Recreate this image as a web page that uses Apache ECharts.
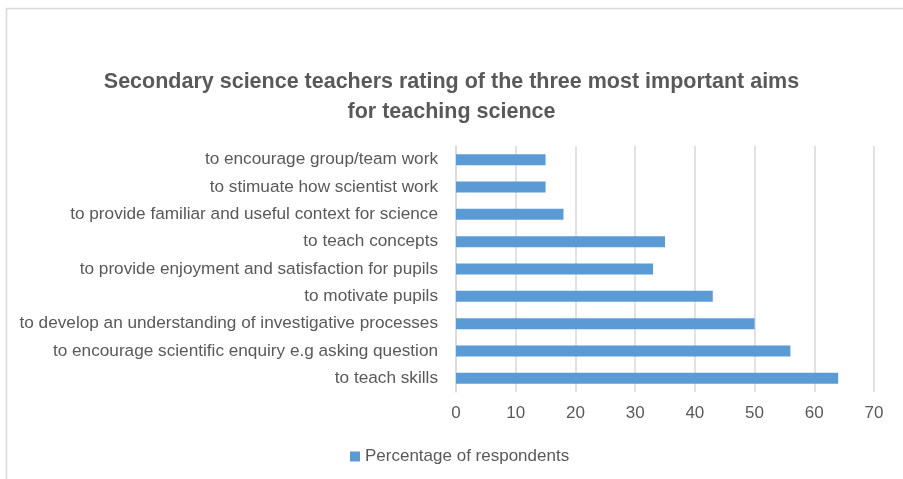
<!DOCTYPE html>
<html>
<head>
<meta charset="utf-8">
<script src="https://cdn.jsdelivr.net/npm/echarts@6/dist/echarts.min.js"></script>
<style>
html, body { margin: 0; padding: 0; background: #fff; }
#chart { width: 903px; height: 479px; }
</style>
</head>
<body>
<div id="chart"></div>
<script>
// categories listed bottom to top, as the value axis reads them
var aims = [
    'to teach skills',
    'to encourage scientific enquiry e.g asking question',
    'to develop an understanding of investigative processes',
    'to motivate pupils',
    'to provide enjoyment and satisfaction for pupils',
    'to teach concepts',
    'to provide familiar and useful context for science',
    'to stimuate how scientist work',
    'to encourage group/team work'
];
var respondents = [64, 56, 50, 43, 33, 35, 18, 15, 15];
var seriesName = 'Percentage of respondents';

var font = 'Liberation Sans, Arial, sans-serif';
var chart = echarts.init(document.getElementById('chart'), null, { renderer: 'canvas' });

var option = {
    animation: false,
    textStyle: { fontFamily: font, color: '#595959' },
    graphic: [{
        type: 'rect',
        shape: { x: 6.5, y: 8.5, width: 910, height: 480 },
        style: { fill: 'none', stroke: '#d9d9d9', lineWidth: 1.5 },
        silent: true
    }],
    title: {
        text: 'Secondary science teachers rating of the three most important aims\nfor teaching science',
        left: 'center',
        top: 62,
        textStyle: {
            fontFamily: font,
            fontSize: 21.5,
            fontWeight: 'bold',
            color: '#595959',
            lineHeight: 30
        }
    },
    legend: {
        bottom: 9,
        left: 345,
        itemWidth: 10,
        itemHeight: 10,
        itemGap: 6,
        icon: 'rect',
        textStyle: { fontSize: 17, color: '#595959', fontFamily: font },
        data: [seriesName]
    },
    grid: { left: 456, right: 29, top: 146, bottom: 87, containLabel: false },
    xAxis: {
        type: 'value',
        min: 0,
        max: 70,
        interval: 10,
        axisLine: { show: false },
        axisTick: { show: false },
        axisLabel: { fontSize: 17, color: '#595959', margin: 13 },
        splitLine: { lineStyle: { color: '#d9d9d9', width: 1.5 } }
    },
    yAxis: {
        type: 'category',
        data: aims,
        axisLine: { show: true, lineStyle: { color: '#d9d9d9', width: 1.5 } },
        axisTick: { show: false },
        axisLabel: { fontSize: 17.2, color: '#595959', margin: 18 }
    },
    series: [{
        name: seriesName,
        type: 'bar',
        data: respondents,
        barWidth: 11,
        itemStyle: { color: '#5b9bd5' }
    }]
};

chart.setOption(option);
</script>
</body>
</html>
